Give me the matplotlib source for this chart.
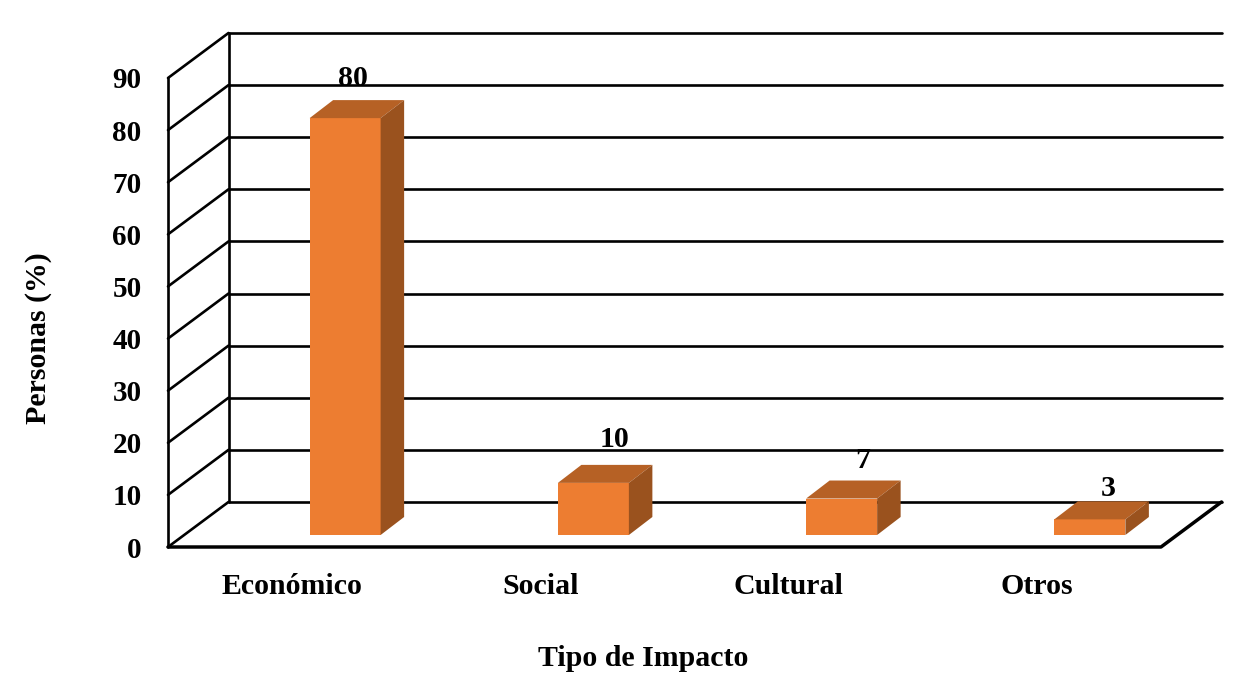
import matplotlib
matplotlib.use('Agg')
from matplotlib import pyplot as plt
from matplotlib.patches import Polygon

categories = ['Económico', 'Social', 'Cultural', 'Otros']
values = [80, 10, 7, 3]
yticks = [0, 10, 20, 30, 40, 50, 60, 70, 80, 90]

W, H = 1237, 684
plt.rcParams['font.family'] = ['Liberation Serif', 'DejaVu Serif']
plt.rcParams['font.weight'] = 'bold'

fig = plt.figure(figsize=(W / 100, H / 100), dpi=100)
# front plane of the fake 3d box, in pixels of the reference
ax = fig.add_axes([168 / W, 1 - 547 / H, 993 / W, 469 / H])
ax.set_xlim(-0.5, 3.5)
ax.set_ylim(0, 90)
for s in ax.spines.values():
    s.set_visible(False)

# depth of the box and of the bars, in data units
box_dx, box_dy = 60.5 / 248.25, 45 / 5.21
bar_dx, bar_dy = 23.5 / 248.25, 18 / 5.21
bar_w = 71 / 248.25
bar_shift = 53 / 248.25   # front face centre sits right of the tick
bar_base = 12 / 5.21      # front face starts above the floor line

lw = 1.9
line = dict(color='black', lw=lw, solid_capstyle='round', clip_on=False, zorder=1)

# walls and floor
for v in yticks:
    ax.plot([-0.5 + box_dx, 3.5 + box_dx], [v + box_dy, v + box_dy], **line)
    ax.plot([-0.5, -0.5 + box_dx], [v, v + box_dy], **line)
ax.plot([-0.5, -0.5], [0, 90], **line)
ax.plot([-0.5 + box_dx, -0.5 + box_dx], [box_dy, 90 + box_dy], **line)
ax.plot([-0.5, 3.5, 3.5 + box_dx], [0, 0, box_dy], **{**line, 'lw': 2.5})

# bars
label_dx = [8, 21, 21, 18]
label_dy = [22, 25, 20, 13]
for i, v in enumerate(values):
    x0 = i + bar_shift - bar_w / 2
    x1 = x0 + bar_w
    y0 = bar_base
    y1 = bar_base + v
    front = [(x0, y0), (x1, y0), (x1, y1), (x0, y1)]
    top = [(x0, y1), (x1, y1), (x1 + bar_dx, y1 + bar_dy), (x0 + bar_dx, y1 + bar_dy)]
    side = [(x1, y0), (x1 + bar_dx, y0 + bar_dy), (x1 + bar_dx, y1 + bar_dy), (x1, y1)]
    ax.add_patch(Polygon(front, fc='#ED7D31', ec='none', zorder=3, clip_on=False))
    ax.add_patch(Polygon(top, fc='#B66125', ec='none', zorder=3, clip_on=False))
    ax.add_patch(Polygon(side, fc='#9A521E', ec='none', zorder=3, clip_on=False))
    ax.annotate(str(v), (i + bar_shift, y1 + bar_dy), xytext=(label_dx[i] * 0.72, label_dy[i] * 0.72),
                textcoords='offset points', ha='center', va='center', fontsize=21.5,
                fontweight='bold', zorder=4)

ax.set_xticks(range(len(categories)))
ax.set_xticklabels(categories, fontsize=21.5, fontweight='bold')
ax.set_yticks(yticks)
ax.set_yticklabels([str(t) for t in yticks], fontsize=21, fontweight='bold')
ax.tick_params(axis='x', length=0, pad=18.5)
ax.tick_params(axis='y', length=0, pad=19)
ax.set_xlabel('Tipo de Impacto', fontsize=21.5, fontweight='bold')
ax.xaxis.set_label_coords((643 - 168) / 993, -(658 - 547) / 469, transform=ax.transAxes)
ax.xaxis.label.set_va('center')
ax.set_ylabel('Personas (%)', fontsize=21.5, fontweight='bold')
ax.yaxis.set_label_coords((39 - 168) / 993, (547 - 338) / 469, transform=ax.transAxes)
ax.yaxis.label.set_va('center')

fig.savefig('out.png', dpi=100)
